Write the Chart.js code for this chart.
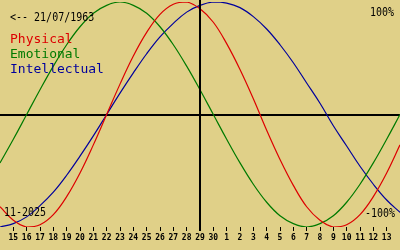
<!DOCTYPE html>
<html>
<head>
<meta charset="utf-8">
<script src="https://cdn.jsdelivr.net/npm/chart.js@4/dist/chart.umd.min.js"></script>
<style>
  html, body { margin: 0; padding: 0; background: #e0d088; }
  canvas { display: block; }
</style>
</head>
<body>
<canvas id="bio" width="400" height="250"></canvas>
<script>
// Days shown on the x axis (14 Nov .. 14 Dec), today is the 29th in the middle
const days = ['14', '15', '16', '17', '18', '19', '20', '21', '22', '23', '24', '25', '26', '27', '28', '29', '30',
              '1', '2', '3', '4', '5', '6', '7', '8', '9', '10', '11', '12', '13', '14'];
const todayIndex = 15;

// Cycle values, -1 .. 1
const physical = [-0.82, -0.94, -1.00, -0.98, -0.89, -0.73, -0.52, -0.27, 0.00, 0.27, 0.52, 0.73, 0.89, 0.98, 1.00, 0.94,
                  0.82, 0.63, 0.40, 0.14, -0.14, -0.40, -0.63, -0.82, -0.94, -1.00, -0.98, -0.89, -0.73, -0.52, -0.27];
const emotional = [-0.43, -0.22, 0.00, 0.22, 0.43, 0.62, 0.78, 0.90, 0.97, 1.00, 0.97, 0.90, 0.78, 0.62, 0.43, 0.22,
                   0.00, -0.22, -0.43, -0.62, -0.78, -0.90, -0.97, -1.00, -0.97, -0.90, -0.78, -0.62, -0.43, -0.22, 0.00];
const intellectual = [-1.00, -0.97, -0.91, -0.81, -0.69, -0.54, -0.37, -0.19, 0.00, 0.19, 0.37, 0.54, 0.69, 0.81, 0.91, 0.97,
                      1.00, 0.99, 0.95, 0.87, 0.76, 0.62, 0.46, 0.28, 0.10, -0.10, -0.28, -0.46, -0.62, -0.76, -0.87];

const RED = '#dd0000';
const GREEN = '#007a00';
const BLUE = '#00009c';
const MONO = "'DejaVu Sans Mono', monospace";

// small texts are a bit taller than the mono font, stretch them
function tallText(ctx, text, x, y) {
    ctx.save();
    ctx.translate(x, y);
    ctx.scale(1, 1.15);
    ctx.fillText(text, 0, 0);
    ctx.restore();
}

// Texts drawn on top of the chart (birth date, legend, percent marks, month)
const textPlugin = {
    id: 'bioTexts',
    afterDraw(chart) {
        const ctx = chart.ctx;
        const x = chart.scales.x;
        const area = chart.chartArea;
        ctx.save();

        // today line, runs down over the tick
        const cx = Math.round(x.getPixelForValue(todayIndex));
        ctx.strokeStyle = '#000';
        ctx.lineWidth = 2;
        ctx.beginPath();
        ctx.moveTo(cx, 0);
        ctx.lineTo(cx, area.bottom + 4);
        ctx.stroke();

        ctx.textBaseline = 'alphabetic';
        ctx.font = '10px ' + MONO;
        ctx.fillStyle = '#000';
        ctx.textAlign = 'left';
        tallText(ctx, '<-- 21/07/1963', 10, 21);
        tallText(ctx, '11-2025', 4, 216);
        ctx.textAlign = 'right';
        tallText(ctx, '100%', 394, 16);
        tallText(ctx, '-100%', 395, 217);

        ctx.textAlign = 'left';
        ctx.font = '13px ' + MONO;
        ctx.fillStyle = RED;
        ctx.fillText('Physical', 10, 43);
        ctx.fillStyle = GREEN;
        ctx.fillText('Emotional', 10, 58);
        ctx.fillStyle = BLUE;
        ctx.fillText('Intellectual', 10, 73);
        ctx.restore();
    }
};

const ctxBio = document.getElementById('bio').getContext('2d');
const bioChart = new Chart(ctxBio, {
    type: 'line',
    data: {
        labels: days,
        datasets: [
            { label: 'Physical', data: physical, borderColor: RED },
            { label: 'Emotional', data: emotional, borderColor: GREEN },
            { label: 'Intellectual', data: intellectual, borderColor: BLUE }
        ]
    },
    options: {
        responsive: false,
        animation: false,
        layout: { padding: { top: 2, left: 0, right: 0, bottom: 0 } },
        elements: {
            point: { radius: 0 },
            line: { borderWidth: 1.2, tension: 0.4, fill: false }
        },
        plugins: {
            legend: { display: false },
            tooltip: { enabled: false }
        },
        scales: {
            x: {
                offset: false,
                border: { display: false },
                grid: {
                    drawOnChartArea: false,
                    tickLength: 4,
                    lineWidth: 1,
                    color: '#000',
                    tickColor: '#000'
                },
                ticks: {
                    autoSkip: false,
                    maxRotation: 0,
                    padding: 2,
                    color: '#000',
                    font: { family: MONO, size: 8, weight: 'bold' },
                    callback: (value, index) => (index === 0 || index === days.length - 1) ? null : days[index]
                },
                afterFit: scale => { scale.height = 23; }
            },
            y: {
                min: -1,
                max: 1,
                border: { display: false },
                ticks: { display: false, stepSize: 1 },
                grid: {
                    drawTicks: false,
                    lineWidth: 2,
                    color: ctx => ctx.tick && ctx.tick.value === 0 ? '#000' : 'rgba(0,0,0,0)'
                },
                afterFit: scale => { scale.width = 0; }
            }
        }
    },
    plugins: [textPlugin]
});
</script>
</body>
</html>
